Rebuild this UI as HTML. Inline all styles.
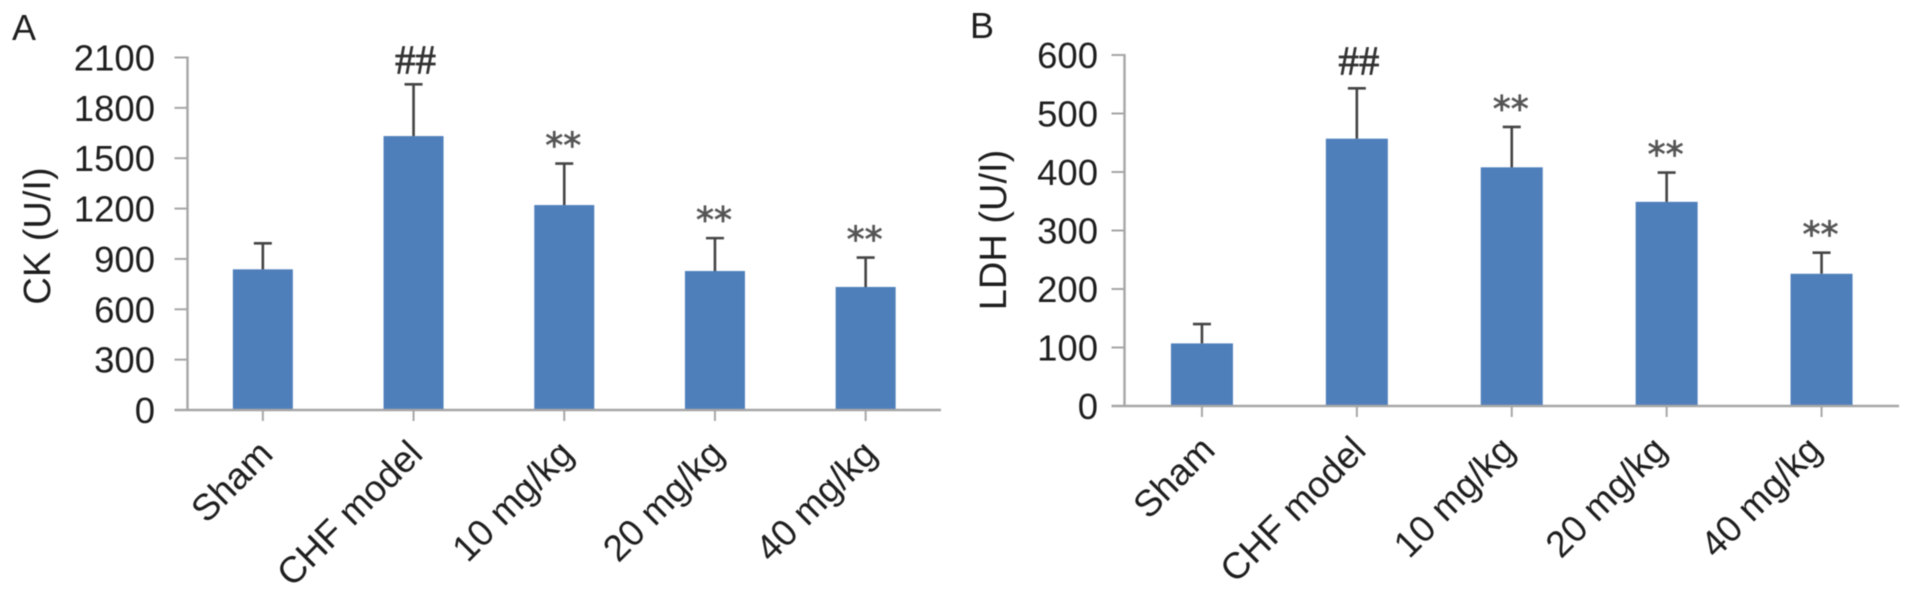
<!DOCTYPE html>
<html lang="en">
<head>
<meta charset="utf-8">
<title>CK and LDH bar charts</title>
<style>
html,body{margin:0;padding:0;background:#fff;width:1914px;height:596px;overflow:hidden}
svg{display:block;filter:blur(0.5px)}
text{font-family:"Liberation Sans",sans-serif;fill:#1e1e1e}
</style>
</head>
<body>
<svg id="figure" width="1914" height="596" viewBox="0 0 1914 596" xmlns="http://www.w3.org/2000/svg"></svg>
<script>
const categories = ['Sham', 'CHF model', '10 mg/kg', '20 mg/kg', '40 mg/kg'];
const ckTicks = [0, 300, 600, 900, 1200, 1500, 1800, 2100];
const ckMeans = [838, 1632, 1221, 828, 733];
const ckErrorTops = [993, 1940, 1468, 1024, 908];
const ckMarkers = ['', '##', '**', '**', '**'];
const ldhTicks = [0, 100, 200, 300, 400, 500, 600];
const ldhMeans = [107, 457, 408, 349, 226];
const ldhErrorTops = [140, 543, 477, 399, 262];
const ldhMarkers = ['', '##', '**', '**', '**'];

const NS = 'http://www.w3.org/2000/svg';
const svg = document.getElementById('figure');

function make(tag, attrs, parent, content) {
  const el = document.createElementNS(NS, tag);
  for (const k in attrs) el.setAttribute(k, attrs[k]);
  if (content !== undefined) el.textContent = content;
  parent.appendChild(el);
  return el;
}

function drawPanel(p, ticks, means, errorTops, markers) {
  const group = make('g', {}, svg);
  
  

  const maxTick = ticks[ticks.length - 1];
  const yScale = v => p.y0 - (v / maxTick) * (p.y0 - p.yTop);
  const step = (p.xEnd - p.x0) / categories.length;
  const xScale = i => p.x0 + step * (i + 0.5);

  const letter = make('text', {x: p.letterX, y: p.letterY, 'font-size': 36}, group, p.letter);
  
  

  const title = make('text', {
    'font-size': 38, 'text-anchor': 'middle',
    transform: 'translate(' + p.titleX + ',' + p.titleY + ') rotate(-90)'
  }, group, p.title);
  
  

  means.forEach((m, i) => {
    const cx = xScale(i);
    const bar = make('rect', {
      x: cx - p.barW / 2, y: yScale(m), width: p.barW, height: p.y0 - yScale(m), fill: '#4f7fbb'
    }, group);
    
    

    const err = make('path', {
      d: 'M' + cx + ' ' + yScale(m) + 'V' + yScale(errorTops[i]) + 'M' + (cx - 9) + ' ' + yScale(errorTops[i]) + 'H' + (cx + 9),
      stroke: '#444', 'stroke-width': 2.6, fill: 'none'
    }, group);
    
    

    if (markers[i]) {
      const isHash = markers[i] === '##';
      const mk = make('text', {
        x: isHash ? cx + 2 : cx - 1,
        y: yScale(errorTops[i]) - (isHash ? p.hashGap : 6),
        'text-anchor': 'middle',
        'font-size': isHash ? 41 : 36,
        stroke: isHash ? '#333' : '#555',
        'stroke-width': 0.7,
        style: isHash ? 'font-family:"Liberation Serif",serif;fill:#333' : 'font-family:"DejaVu Sans",sans-serif;fill:#555'
      }, group, markers[i]);
      
      
    }

    const xt = make('line', {x1: cx, x2: cx, y1: p.y0, y2: p.y0 + 11, stroke: '#a6a6a6', 'stroke-width': 2}, group);
    
    

    const lx = cx + 11 + p.labelNudge[i];
    const ly = p.y0 + 46;
    const lab = make('text', {
      'font-size': 37, 'text-anchor': 'end',
      transform: 'translate(' + lx + ',' + ly + ') rotate(-45)'
    }, group, categories[i]);
    
    
  });

  ticks.forEach(t => {
    const y = yScale(t);
    const tk = make('line', {x1: p.x0 - 13, x2: p.x0, y1: y, y2: y, stroke: '#a6a6a6', 'stroke-width': 2}, group);
    
    

    const lab = make('text', {x: p.labelX, y: y + 13, 'font-size': 36.5, 'text-anchor': 'end'}, group, String(t));
    
    
  });

  const yAxis = make('line', {x1: p.x0, x2: p.x0, y1: p.yTop - 1, y2: p.y0 + 1, stroke: '#a6a6a6', 'stroke-width': 2.4}, group);
  
  

  const xAxis = make('line', {x1: p.x0 - 13, x2: p.xEnd, y1: p.y0, y2: p.y0, stroke: '#a6a6a6', 'stroke-width': 2.4}, group);
  
  
}

drawPanel({
  id: 'ck', letter: 'A', title: 'CK (U/I)',
  letterX: 12, letterY: 40, titleX: 50, titleY: 236, labelX: 155,
  x0: 187.5, xEnd: 941, yTop: 57.5, y0: 410, barW: 60, hashGap: 11,
  labelNudge: [1, 0, 0, 0, 2]
}, ckTicks, ckMeans, ckErrorTops, ckMarkers);

drawPanel({
  id: 'ldh', letter: 'B', title: 'LDH (U/I)',
  letterX: 970, letterY: 38, titleX: 1006, titleY: 230, labelX: 1098,
  x0: 1124.5, xEnd: 1899, yTop: 55, y0: 406, barW: 62, hashGap: 14,
  labelNudge: [4, 0, -6, -9, -9]
}, ldhTicks, ldhMeans, ldhErrorTops, ldhMarkers);
</script>
</body>
</html>
